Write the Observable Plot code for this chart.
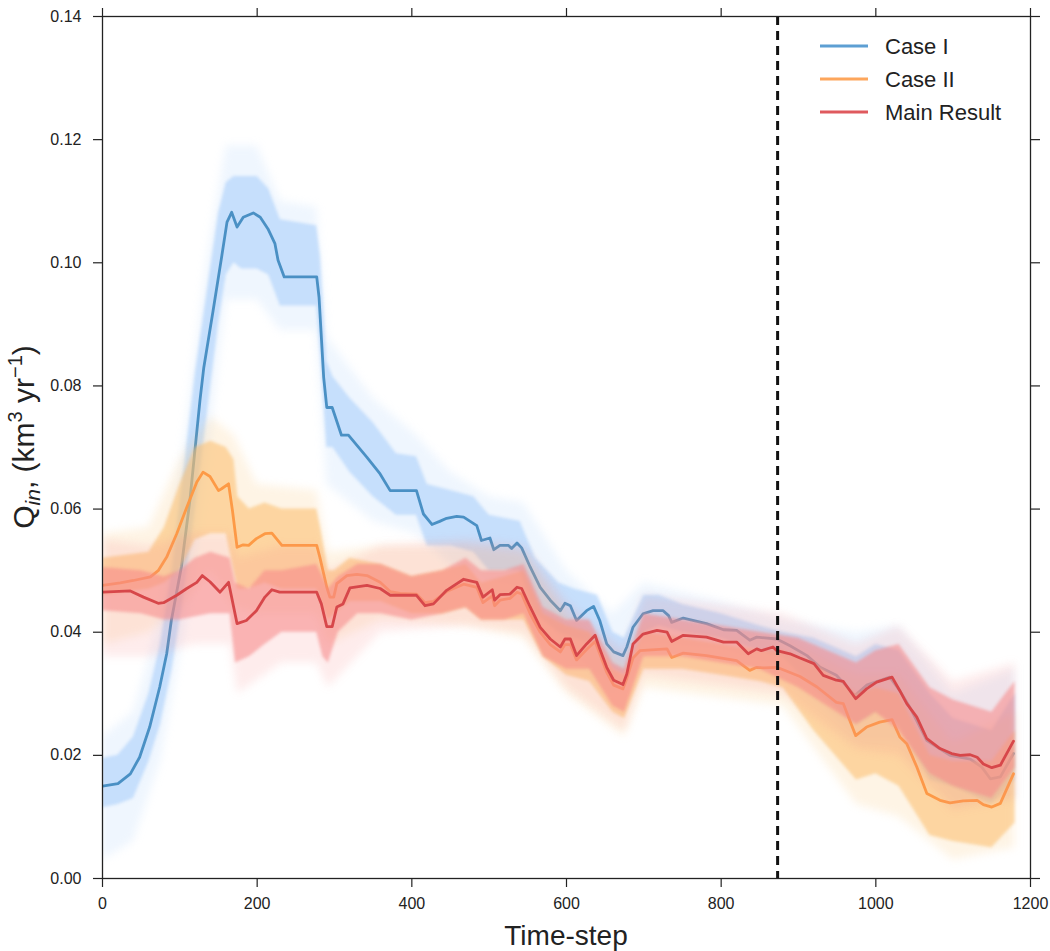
<!DOCTYPE html>
<html><head><meta charset="utf-8">
<script src="https://cdn.jsdelivr.net/npm/d3@7"></script>
<script src="https://cdn.jsdelivr.net/npm/@observablehq/plot@0.6"></script>
<style>
body{margin:0;background:#fff;font-family:"Liberation Sans",Arial,Helvetica,sans-serif}
#chart{position:relative;width:1050px;height:951px}
</style>
</head><body><div id="chart"></div>
<script>
// ---------------- data ----------------
const seriesNames = ["Case I", "Case II", "Main Result"];
const cutoffStep = 873;
const xTicks = [0, 200, 400, 600, 800, 1000, 1200];
const yTicks = [0, 0.02, 0.04, 0.06, 0.08, 0.10, 0.12, 0.14];

// Case I median
const caseI_t = [0,20,36,48,61,74,83,89,102,113,126,131,143,154,161,167,174,182,195,204,214,223,227,235,277,280,286,290,297,309,318,342,359,372,406,415,426,436,445,458,467,484,490,501,506,514,525,529,536,542,553,566,579,592,598,605,613,626,635,643,652,661,673,678,686,699,712,725,732,736,751,781,803,820,837,846,872,889,911,928,949,973,988,1018,1031,1044,1066,1096,1122,1137,1148,1161,1178];
const caseI_q = [0.0150,0.0154,0.0170,0.0197,0.0246,0.0311,0.0365,0.0419,0.0506,0.0614,0.0776,0.0830,0.0922,0.1009,0.1066,0.1082,0.1058,0.1074,0.1081,0.1074,0.1055,0.1031,0.1004,0.0977,0.0977,0.0944,0.0814,0.0765,0.0765,0.0720,0.0720,0.0684,0.0657,0.0630,0.0630,0.0592,0.0575,0.0580,0.0585,0.0588,0.0587,0.0573,0.0549,0.0553,0.0534,0.0541,0.0541,0.0536,0.0545,0.0537,0.0506,0.0473,0.0452,0.0435,0.0447,0.0443,0.0419,0.0435,0.0442,0.0419,0.0381,0.0368,0.0362,0.0376,0.0408,0.0430,0.0435,0.0435,0.0427,0.0416,0.0423,0.0414,0.0404,0.0403,0.0387,0.0392,0.0389,0.0378,0.0362,0.0343,0.0330,0.0297,0.0314,0.0327,0.0305,0.0278,0.0224,0.0200,0.0194,0.0181,0.0162,0.0165,0.0203];

// Case II median
const caseII_t = [0,23,40,62,72,83,96,109,122,130,139,150,154,163,168,174,182,189,199,210,219,232,277,281,290,294,299,303,316,329,342,359,372,385,406,417,428,445,467,484,492,504,507,514,527,536,542,553,566,579,592,598,605,613,626,637,643,652,661,673,678,686,695,730,736,751,781,820,837,846,855,872,902,924,949,958,974,988,1005,1021,1031,1040,1053,1066,1083,1096,1113,1131,1139,1150,1161,1178];
const caseII_q = [0.0476,0.0480,0.0484,0.0490,0.0500,0.0522,0.0560,0.0603,0.0644,0.0660,0.0653,0.0630,0.0633,0.0641,0.0598,0.0538,0.0542,0.0541,0.0552,0.0560,0.0561,0.0541,0.0541,0.0522,0.0473,0.0457,0.0457,0.0479,0.0492,0.0494,0.0492,0.0481,0.0466,0.0463,0.0462,0.0448,0.0450,0.0466,0.0478,0.0473,0.0448,0.0459,0.0443,0.0452,0.0455,0.0465,0.0462,0.0430,0.0400,0.0380,0.0368,0.0380,0.0380,0.0355,0.0372,0.0385,0.0365,0.0335,0.0314,0.0308,0.0325,0.0358,0.0370,0.0373,0.0359,0.0366,0.0362,0.0354,0.0338,0.0343,0.0342,0.0343,0.0328,0.0311,0.0286,0.0284,0.0232,0.0246,0.0254,0.0258,0.0230,0.0219,0.0181,0.0138,0.0127,0.0123,0.0126,0.0127,0.0120,0.0116,0.0122,0.0170];

// Main Result median
const main_t = [0,36,53,72,79,96,109,122,129,139,152,163,174,186,199,210,219,229,277,283,290,297,303,311,320,342,359,372,406,417,428,445,467,484,492,504,507,514,527,536,542,553,566,579,592,598,605,613,626,637,643,652,661,673,678,686,699,717,730,736,751,781,803,820,835,846,852,867,872,889,902,920,932,949,958,974,988,1001,1021,1031,1040,1053,1066,1083,1098,1109,1122,1131,1139,1150,1161,1178];
const main_q = [0.0465,0.0467,0.0457,0.0447,0.0448,0.0460,0.0471,0.0481,0.0492,0.0482,0.0465,0.0481,0.0414,0.0419,0.0435,0.0457,0.0469,0.0465,0.0465,0.0446,0.0409,0.0409,0.0441,0.0446,0.0472,0.0476,0.0471,0.0460,0.0460,0.0443,0.0446,0.0468,0.0486,0.0481,0.0457,0.0469,0.0452,0.0461,0.0462,0.0473,0.0471,0.0441,0.0408,0.0389,0.0376,0.0389,0.0389,0.0362,0.0381,0.0395,0.0373,0.0343,0.0322,0.0315,0.0332,0.0381,0.0397,0.0403,0.0400,0.0385,0.0395,0.0392,0.0384,0.0384,0.0365,0.0373,0.0370,0.0376,0.0370,0.0365,0.0358,0.0349,0.0330,0.0322,0.0320,0.0292,0.0308,0.0319,0.0327,0.0305,0.0284,0.0262,0.0227,0.0211,0.0203,0.0200,0.0201,0.0197,0.0186,0.0180,0.0184,0.0223];

// ensemble spread: dense core band
const caseI_bandT  = [0,20,40,60,75,90,105,120,135,150,160,170,180,200,215,230,277,282,290,298,320,350,380,406,420,450,480,500,540,560,590,610,640,660,675,700,720,750,800,850,880,920,975,1000,1030,1070,1100,1150,1180];
const caseI_bandLo = [0.0115,0.012,0.013,0.019,0.025,0.034,0.046,0.060,0.075,0.090,0.098,0.100,0.099,0.099,0.098,0.093,0.093,0.085,0.070,0.070,0.066,0.062,0.059,0.059,0.054,0.054,0.053,0.050,0.050,0.043,0.040,0.039,0.038,0.034,0.033,0.040,0.041,0.040,0.039,0.037,0.036,0.031,0.025,0.027,0.025,0.016,0.015,0.012,0.016];
const caseI_bandHi = [0.0195,0.020,0.023,0.030,0.038,0.050,0.066,0.082,0.095,0.108,0.113,0.114,0.114,0.114,0.112,0.107,0.106,0.101,0.084,0.0815,0.078,0.074,0.069,0.0685,0.064,0.063,0.062,0.059,0.058,0.052,0.048,0.047,0.046,0.040,0.039,0.046,0.046,0.0445,0.043,0.041,0.040,0.039,0.036,0.038,0.037,0.030,0.026,0.024,0.030];

const caseII_bandT  = [0,60,80,100,120,140,160,170,175,190,210,232,277,282,292,300,320,360,400,440,470,490,520,545,570,600,630,660,675,700,750,800,850,880,920,975,1000,1030,1070,1100,1150,1180];
const caseII_bandLo = [0.046,0.047,0.048,0.050,0.055,0.056,0.056,0.050,0.047,0.047,0.048,0.047,0.047,0.045,0.042,0.043,0.045,0.045,0.043,0.043,0.044,0.042,0.042,0.042,0.036,0.033,0.032,0.027,0.026,0.034,0.034,0.033,0.032,0.031,0.024,0.016,0.017,0.015,0.007,0.006,0.005,0.009];
const caseII_bandHi = [0.052,0.053,0.057,0.064,0.070,0.071,0.070,0.068,0.062,0.060,0.061,0.060,0.060,0.057,0.050,0.050,0.052,0.051,0.049,0.050,0.051,0.048,0.049,0.050,0.043,0.041,0.040,0.034,0.033,0.040,0.039,0.038,0.037,0.037,0.035,0.030,0.031,0.030,0.020,0.019,0.019,0.024];

const main_bandT  = [0,50,80,100,120,140,165,172,190,210,232,277,285,292,305,330,360,400,440,470,490,520,545,570,600,630,660,675,700,750,800,850,900,975,1000,1030,1070,1100,1150,1180];
const main_bandLo = [0.0435,0.043,0.042,0.042,0.0425,0.043,0.043,0.035,0.036,0.038,0.040,0.040,0.036,0.035,0.040,0.043,0.043,0.042,0.043,0.044,0.042,0.042,0.043,0.036,0.034,0.034,0.028,0.027,0.036,0.036,0.035,0.034,0.031,0.025,0.027,0.024,0.017,0.015,0.013,0.018];
const main_bandHi = [0.0505,0.050,0.049,0.050,0.052,0.053,0.052,0.048,0.047,0.050,0.050,0.051,0.049,0.047,0.049,0.051,0.051,0.049,0.050,0.052,0.050,0.050,0.051,0.044,0.042,0.042,0.035,0.034,0.043,0.042,0.041,0.040,0.039,0.035,0.037,0.038,0.031,0.029,0.027,0.032];

// ensemble spread: faint outer halo
const caseI_haloT  = [0,40,75,105,135,160,200,230,277,290,350,406,450,500,545,600,660,700,800,880,975,1030,1100,1180];
const caseI_haloLo = [0.003,0.006,0.019,0.040,0.068,0.094,0.094,0.089,0.089,0.064,0.058,0.056,0.051,0.048,0.047,0.037,0.031,0.038,0.037,0.034,0.022,0.022,0.012,0.013];
const caseI_haloHi = [0.023,0.027,0.042,0.070,0.100,0.119,0.119,0.110,0.109,0.088,0.078,0.072,0.066,0.062,0.061,0.050,0.043,0.048,0.045,0.042,0.040,0.041,0.030,0.034];

const caseII_haloT  = [0,60,100,140,170,200,277,292,360,470,545,600,675,700,880,975,1030,1100,1180];
const caseII_haloLo = [0.038,0.040,0.044,0.050,0.044,0.043,0.043,0.038,0.042,0.041,0.039,0.030,0.023,0.031,0.028,0.012,0.010,0.003,0.005];
const caseII_haloHi = [0.056,0.057,0.068,0.075,0.072,0.064,0.063,0.053,0.054,0.054,0.053,0.043,0.035,0.042,0.039,0.033,0.033,0.022,0.027];

const main_haloT  = [0,60,120,165,175,232,277,292,360,470,545,600,675,700,880,975,1030,1100,1180];
const main_haloLo = [0.036,0.036,0.038,0.038,0.030,0.035,0.035,0.031,0.040,0.041,0.040,0.031,0.024,0.033,0.030,0.021,0.020,0.011,0.013];
const main_haloHi = [0.055,0.054,0.056,0.056,0.052,0.054,0.054,0.050,0.054,0.055,0.054,0.045,0.037,0.046,0.043,0.038,0.041,0.032,0.035];

// ---------------- styling ----------------
const lineColors = ["#4a90c4", "#fd9a46", "#d7474a"];
const legendColors = ["#5d9fd3", "#fda65c", "#df5a5e"];
const bandFills = ["#b6d5fb", "#fcc070", "#f78a8a"];
const bandOpacity = [0.72, 0.58, 0.58];
const haloOpacity = [0.22, 0.18, 0.16];

const pts = (ts, qs) => ts.map((t, i) => ({t, q: qs[i]}));
const band = (ts, lo, hi) => ts.map((t, i) => ({t, lo: lo[i], hi: hi[i]}));

const series = [
  {line: pts(caseI_t, caseI_q), band: band(caseI_bandT, caseI_bandLo, caseI_bandHi), halo: band(caseI_haloT, caseI_haloLo, caseI_haloHi)},
  {line: pts(caseII_t, caseII_q), band: band(caseII_bandT, caseII_bandLo, caseII_bandHi), halo: band(caseII_haloT, caseII_haloLo, caseII_haloHi)},
  {line: pts(main_t, main_q), band: band(main_bandT, main_bandLo, main_bandHi), halo: band(main_haloT, main_haloLo, main_haloHi)}
];

const marks = [];
series.forEach((s, i) => {
  marks.push(Plot.areaY(s.halo, {x: "t", y1: "lo", y2: "hi", fill: bandFills[i], fillOpacity: haloOpacity[i], clip: true}));
  marks.push(Plot.areaY(s.band, {x: "t", y1: "lo", y2: "hi", fill: bandFills[i], fillOpacity: bandOpacity[i], clip: true}));
  marks.push(Plot.line(s.line, {x: "t", y: "q", stroke: lineColors[i], strokeWidth: 2.8, strokeLinejoin: "round", strokeLinecap: "round", clip: true}));
});
marks.push(Plot.ruleX([cutoffStep], {stroke: "#111", strokeWidth: 3, strokeDasharray: "9,6"}));
marks.push(Plot.frame({stroke: "#222", strokeWidth: 1.3}));
const tickStyle = {stroke: "#222", strokeWidth: 1.2, tickSize: 9, fontSize: 16, color: "#222"};
marks.push(Plot.axisX({...tickStyle, ticks: xTicks, anchor: "bottom", tickPadding: 10, label: null, tickFormat: d3.format("d")}));
marks.push(Plot.axisX({...tickStyle, ticks: xTicks, anchor: "top", label: null, tickFormat: () => ""}));
marks.push(Plot.axisY({...tickStyle, ticks: yTicks, anchor: "left", tickPadding: 12, label: null, tickFormat: d3.format(".2f")}));
marks.push(Plot.axisY({...tickStyle, ticks: yTicks, anchor: "right", label: null, tickFormat: () => ""}));

const chart = Plot.plot({
  width: 1050, height: 951,
  marginLeft: 102, marginRight: 20, marginTop: 16, marginBottom: 73,
  style: {fontFamily: '"Liberation Sans", Arial, sans-serif', fontSize: "16px", color: "#222", background: "#fff"},
  x: {domain: [0, 1200]},
  y: {domain: [0, 0.14]},
  marks
});
document.getElementById("chart").appendChild(chart);

// soft edges for the ensemble spread
const areas = chart.querySelectorAll('g[aria-label="area"]');
areas.forEach((g, i) => { g.style.filter = (i % 2 === 0) ? "blur(4px)" : "blur(1.5px)"; });

const svg = d3.select(chart);
// axis titles
svg.append("text").attr("x", 566).attr("y", 945).attr("text-anchor", "middle")
  .attr("font-size", 28).attr("fill", "#222").text("Time-step");
const yl = svg.append("text").attr("transform", "translate(34,437) rotate(-90)")
  .attr("text-anchor", "middle").attr("font-size", 30).attr("fill", "#222");
yl.append("tspan").text("Q");
yl.append("tspan").attr("font-size", 21).attr("font-style", "italic").attr("dy", 6).text("in");
yl.append("tspan").attr("dy", -6).text(", (km");
yl.append("tspan").attr("font-size", 20).attr("dy", -12).text("3");
yl.append("tspan").attr("dy", 12).text(" yr");
yl.append("tspan").attr("font-size", 20).attr("dy", -12).text("\u22121");
yl.append("tspan").attr("dy", 12).text(")");

// legend (inside the plot, upper right)
const lg = svg.append("g");
seriesNames.forEach((name, i) => {
  const y = 46 + i * 33;
  lg.append("line").attr("x1", 820).attr("x2", 868).attr("y1", y).attr("y2", y)
    .attr("stroke", legendColors[i]).attr("stroke-width", 3);
  lg.append("text").attr("x", 885).attr("y", y).attr("dy", "0.36em").attr("text-anchor", "start")
    .attr("font-size", 22).attr("fill", "#222").text(name);
});
</script></body></html>
